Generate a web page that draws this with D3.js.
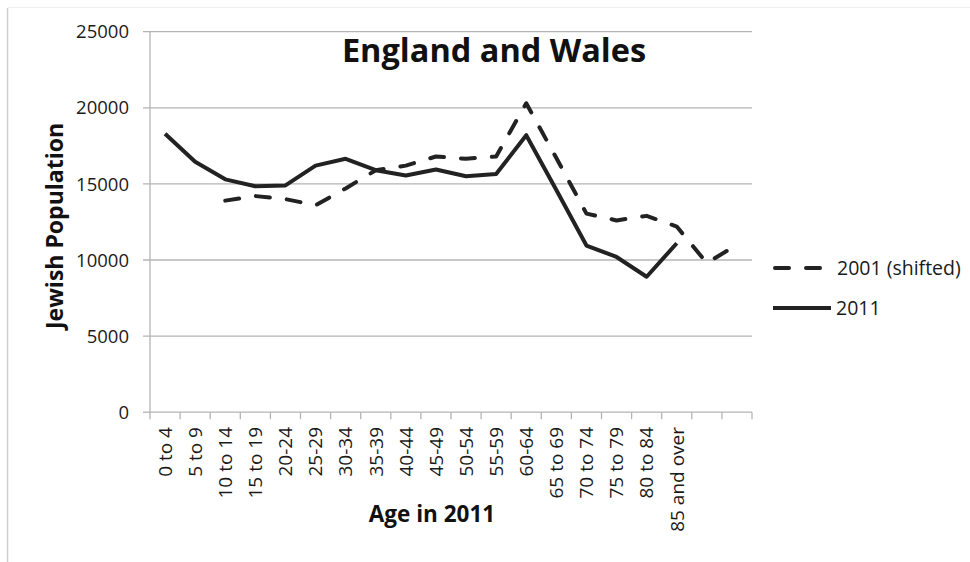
<!DOCTYPE html>
<html>
<head>
<meta charset="utf-8">
<script src="https://cdn.jsdelivr.net/npm/d3@7"></script>
<style>
  body { margin: 0; background: #fff; }
  svg { display: block; }
</style>
</head>
<body>
<div id="chart"></div>
<script>
// Data
var ageGroups = ['0 to 4', '5 to 9', '10 to 14', '15 to 19', '20-24', '25-29', '30-34', '35-39',
  '40-44', '45-49', '50-54', '55-59', '60-64', '65 to 69', '70 to 74', '75 to 79', '80 to 84',
  '85 and over', '', '']
var pop2011 = [18300, 16450, 15300, 14850, 14900, 16200, 16650, 15900, 15550, 15950, 15500,
  15650, 18200, 14600, 10950, 10200, 8900, 11100, null, null]
var pop2001Shifted = [null, null, 13900, 14200, 14000, 13600, 14700, 15900, 16200, 16800, 16650,
  16800, 20300, 16700, 13050, 12600, 12900, 12200, 9800, 11000]
var yTicks = [0, 5000, 10000, 15000, 20000, 25000]
var seriesNames = ['2001 (shifted)', '2011']

// Settings
var settings = {}
settings.width = 970
settings.height = 562
settings.left = 150
settings.right = 752
settings.top = 31.7
settings.bottom = 412.2
settings.font = 'Open Sans, sans-serif'
settings.grid_color = '#b4b4b4'
settings.line_color = '#222'
settings.line_width = 4

var svg = d3.select('#chart').append('svg')
  .attr('width', settings.width)
  .attr('height', settings.height)

// Faint frame of the original picture
svg.append('line')
  .attr('x1', 7.5).attr('x2', 7.5).attr('y1', 8).attr('y2', settings.height)
  .attr('stroke', '#cfcfcf').attr('stroke-width', 1.5)
svg.append('line')
  .attr('x1', 8).attr('x2', settings.width).attr('y1', 7.5).attr('y2', 7.5)
  .attr('stroke', '#f0f0f0').attr('stroke-width', 1)

// Scales
var x = d3.scaleBand()
  .domain(d3.range(ageGroups.length))
  .range([settings.left, settings.right])
  .padding(0)
var y = d3.scaleLinear()
  .domain([0, 25000])
  .range([settings.bottom, settings.top])
var cx = function(i){ return x(i) + x.bandwidth() / 2 }

// Gridlines and y ticks
yTicks.forEach(function(t){
  svg.append('line')
    .attr('x1', settings.left - 7).attr('x2', t === 0 ? settings.left : settings.right)
    .attr('y1', y(t)).attr('y2', y(t))
    .attr('stroke', settings.grid_color).attr('stroke-width', 1.3)
  svg.append('text')
    .attr('x', 129).attr('y', y(t))
    .attr('dy', '0.36em')
    .attr('text-anchor', 'end')
    .attr('font-family', settings.font)
    .attr('font-size', 18.5)
    .attr('fill', '#1a1a1a')
    .text(t)
})

// Axis lines
svg.append('line')
  .attr('x1', settings.left).attr('x2', settings.left)
  .attr('y1', settings.top).attr('y2', settings.bottom)
  .attr('stroke', settings.grid_color).attr('stroke-width', 1.3)
svg.append('line')
  .attr('x1', settings.left).attr('x2', settings.right)
  .attr('y1', settings.bottom).attr('y2', settings.bottom)
  .attr('stroke', settings.grid_color).attr('stroke-width', 1.3)

// Category ticks (between categories)
d3.range(ageGroups.length + 1).forEach(function(i){
  var tx = i < ageGroups.length ? x(i) : settings.right
  svg.append('line')
    .attr('x1', tx).attr('x2', tx)
    .attr('y1', settings.bottom).attr('y2', settings.bottom + 7)
    .attr('stroke', settings.grid_color).attr('stroke-width', 1.3)
})

// Category labels
ageGroups.forEach(function(label, i){
  svg.append('text')
    .attr('transform', 'translate(' + cx(i) + ',' + 427 + ') rotate(-90)')
    .attr('dy', '0.36em')
    .attr('text-anchor', 'end')
    .attr('font-family', settings.font)
    .attr('font-size', 19)
    .attr('fill', '#1a1a1a')
    .text(label)
})

// Lines
var line = d3.line()
  .defined(function(d){ return d != null })
  .x(function(d, i){ return cx(i) })
  .y(function(d){ return y(d) })

svg.append('path')
  .attr('d', line(pop2001Shifted))
  .attr('fill', 'none')
  .attr('stroke', settings.line_color)
  .attr('stroke-width', settings.line_width)
  .attr('stroke-dasharray', '14,17')
  .attr('stroke-linecap', 'round')
  .attr('stroke-linejoin', 'round')

svg.append('path')
  .attr('d', line(pop2011))
  .attr('fill', 'none')
  .attr('stroke', settings.line_color)
  .attr('stroke-width', settings.line_width)
  .attr('stroke-linejoin', 'round')

// Title
svg.append('text')
  .attr('x', 494).attr('y', 62)
  .attr('text-anchor', 'middle')
  .attr('font-family', settings.font)
  .attr('font-weight', 'bold')
  .attr('font-size', 32.5)
  .attr('fill', '#111')
  .text('England and Wales')

// Axis titles
svg.append('text')
  .attr('transform', 'translate(63,226) rotate(-90)')
  .attr('text-anchor', 'middle')
  .attr('font-family', settings.font)
  .attr('font-weight', 'bold')
  .attr('font-size', 23)
  .attr('fill', '#111')
  .text('Jewish Population')

svg.append('text')
  .attr('x', 432).attr('y', 522)
  .attr('text-anchor', 'middle')
  .attr('font-family', settings.font)
  .attr('font-weight', 'bold')
  .attr('font-size', 22.5)
  .attr('fill', '#111')
  .text('Age in 2011')

// Legend
var legend = svg.append('g')
seriesNames.forEach(function(name, i){
  var ly = i === 0 ? 268 : 308
  legend.append('line')
    .attr('x1', i === 0 ? 775 : 773).attr('x2', i === 0 ? 822 : 831)
    .attr('y1', ly).attr('y2', ly)
    .attr('stroke', settings.line_color)
    .attr('stroke-width', settings.line_width)
    .attr('stroke-dasharray', i === 0 ? '14,17' : null)
    .attr('stroke-linecap', i === 0 ? 'round' : 'butt')
  legend.append('text')
    .attr('x', i === 0 ? 837 : 836).attr('y', ly)
    .attr('dy', '0.36em')
    .attr('font-family', settings.font)
    .attr('font-size', 19.5)
    .attr('fill', '#1a1a1a')
    .text(name)
})
</script>
</body>
</html>
